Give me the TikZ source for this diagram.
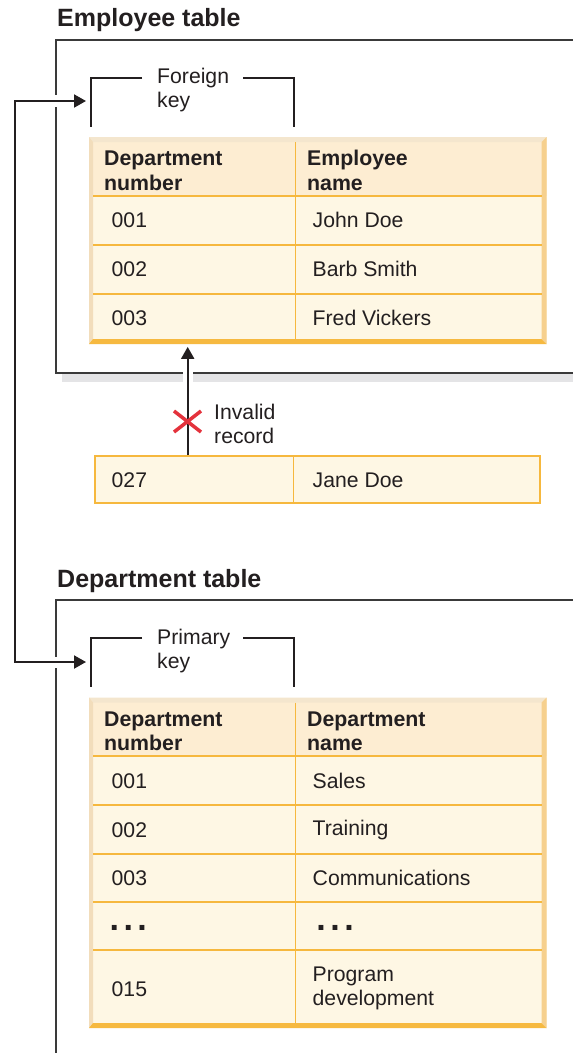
\documentclass[tikz,border=0pt]{standalone}
\usepackage{fontspec}
\setmainfont{Liberation Sans}
\usetikzlibrary{arrows.meta}
\definecolor{ink}{HTML}{231F20}
\definecolor{framec}{HTML}{3A3A3A}
\definecolor{shadowc}{HTML}{E4E4E6}
\definecolor{hdrfill}{HTML}{FDEDD2}
\definecolor{rowfill}{HTML}{FEF7E4}
\definecolor{bevtop}{HTML}{F4E6CE}
\definecolor{bevleft}{HTML}{F2DDBB}
\definecolor{bevright}{HTML}{F6D08E}
\definecolor{bevbot}{HTML}{F6B940}
\definecolor{oline}{HTML}{F6B83E}
\definecolor{xred}{HTML}{E4323C}
% #1 left, #2 top, #3 right, #4 bottom, #5 header bottom
\newcommand\mybevtab[5]{%
  \fill[rowfill] (#1,#2) rectangle (#3,#4);
  \fill[hdrfill] (#1,#2) rectangle (#3,#5);
  \fill[bevtop] (#1,#2) -- (#3,#2) -- (#3-5,#2+5) -- (#1+4,#2+5) -- cycle;
  \fill[bevleft] (#1,#2) -- (#1+4,#2+5) -- (#1+4,#4-5) -- (#1,#4) -- cycle;
  \fill[bevright] (#3,#2) -- (#3,#4) -- (#3-5,#4-5) -- (#3-5,#2+5) -- cycle;
  \fill[bevbot] (#1,#4) -- (#3,#4) -- (#3-5,#4-5) -- (#1+4,#4-5) -- cycle;
}
\begin{document}
\begin{tikzpicture}[x=1pt,y=-1pt,
  titletext/.style={anchor=base west,inner sep=0pt,text=ink,font=\fontsize{25}{30}\selectfont\bfseries},
  txt/.style={anchor=base west,inner sep=0pt,text=ink,font=\fontsize{21.2}{24.5}\selectfont},
  hdr/.style={anchor=base west,inner sep=0pt,text=ink,font=\fontsize{21.3}{24.5}\selectfont\bfseries},
  dots/.style={anchor=base west,inner sep=0pt,text=ink,font=\fontsize{34}{34}\selectfont\bfseries},
  frameline/.style={draw=framec,line width=2pt},
  shadowfill/.style={fill=shadowc},
  bracketline/.style={draw=ink,line width=2pt},
  rowline/.style={draw=oline,line width=2pt},
  colline/.style={draw=oline,line width=1.6pt},
  tablebox/.style={inner sep=0pt,draw=none},
  janebox/.style={inner sep=0pt,draw=oline,line width=2pt,fill=rowfill},
  conn/.style={draw=ink,line width=2pt},
  xmark/.style={draw=xred,line width=3.5pt},
  tip/.style={-{Triangle[length=12pt,width=13pt]}}
]
\useasboundingbox[fill=white] (0,0) rectangle (573,1053);

% ---------------- Employee table ----------------
\node[titletext] (title1) at (57,26.7) {Employee table};
\draw[frameline] (573,39.5) -- (56,39.5) -- (56,95);
\draw[frameline] (56,107) -- (56,372.7) -- (182.5,372.7);
\draw[frameline] (193.2,372.7) -- (573,372.7);
\fill[shadowfill] (62,374) rectangle (182.5,382);
\fill[shadowfill] (193.2,374) rectangle (573,382);

\draw[bracketline] (142,77.5) -- (91,77.5) -- (91,126.5);
\draw[bracketline] (243,77.5) -- (294,77.5) -- (294,126.5);
\node[txt] (fk1) at (157,83.3) {Foreign};
\node[txt] (fk2) at (157,107.6) {key};
\coordinate (fkin) at (86,101);

\mybevtab{89}{137}{546.5}{344}{196}
\node[tablebox,minimum width=457.5pt,minimum height=207pt] (t1) at (317.75,240.5) {};
\draw[rowline] (93,196) -- (541.5,196);
\draw[rowline] (93,245) -- (541.5,245);
\draw[rowline] (93,294) -- (541.5,294);
\draw[colline] (295.5,142) -- (295.5,339);
\node[hdr] (h11) at (104,165.7) {Department};
\node[hdr] (h12) at (104,190) {number};
\node[hdr] (h13) at (307,165.7) {Employee};
\node[hdr] (h14) at (307,190) {name};
\node[txt] (e1a) at (111.5,227.5) {001};
\node[txt] (e1b) at (312.5,227.5) {John Doe};
\node[txt] (e2a) at (111.5,276.5) {002};
\node[txt] (e2b) at (312.5,276.5) {Barb Smith};
\node[txt] (e3a) at (111.5,325.7) {003};
\node[txt] (e3b) at (312.5,325.7) {Fred Vickers};

% ---------------- Invalid record ----------------
\node[janebox,minimum width=445pt,minimum height=47.3pt] (jane) at (317.5,479.7) {};
\coordinate (jdx) at (293.5,0);
\draw[colline] (jane.north -| jdx) -- (jane.south -| jdx);
\node[txt] (j1) at (111.5,487.3) {027};
\node[txt] (j2) at (312.5,487.3) {Jane Doe};
\coordinate (ax) at (187.7,0);
\draw[conn,tip] (jane.north -| ax) -- ([yshift=-2.7pt]t1.south -| ax);
\draw[xmark] (174,411) -- (201,432) (174,432) -- (201,411);
\node[txt] (inv1) at (214,419.5) {Invalid};
\node[txt] (inv2) at (214,443.5) {record};

% ---------------- Department table ----------------
\node[titletext] (title2) at (57,587.3) {Department table};
\draw[frameline] (573,599.5) -- (56,599.5) -- (56,657);
\draw[frameline] (56,668) -- (56,1053);

\draw[bracketline] (142,638.1) -- (91,638.1) -- (91,687.1);
\draw[bracketline] (243,638.1) -- (294,638.1) -- (294,687.1);
\node[txt] (pk1) at (157,644) {Primary};
\node[txt] (pk2) at (157,668.3) {key};
\coordinate (pkin) at (86,662);

\mybevtab{89}{697.5}{546.5}{1028}{756}
\node[tablebox,minimum width=457.5pt,minimum height=330.5pt] (t2) at (317.75,862.75) {};
\draw[rowline] (93,756) -- (541.5,756);
\draw[rowline] (93,805) -- (541.5,805);
\draw[rowline] (93,853.5) -- (541.5,853.5);
\draw[rowline] (93,901.5) -- (541.5,901.5);
\draw[rowline] (93,950) -- (541.5,950);
\draw[colline] (295.5,702.5) -- (295.5,1023);
\node[hdr] (h21) at (104,726.3) {Department};
\node[hdr] (h22) at (104,750.6) {number};
\node[hdr] (h23) at (307,726.3) {Department};
\node[hdr] (h24) at (307,750.6) {name};
\node[txt] (d1a) at (111.5,788.3) {001};
\node[txt] (d1b) at (312.5,788.3) {Sales};
\node[txt] (d2a) at (111.5,837) {002};
\node[txt] (d2b) at (312.5,835) {Training};
\node[txt] (d3a) at (111.5,885.5) {003};
\node[txt] (d3b) at (312.5,885.5) {Communications};
\node[dots] (d4a) at (109.4,930) {.\kern4.5pt.\kern4.5pt.};
\node[dots] (d4b) at (316.2,930) {.\kern4.5pt.\kern4.5pt.};
\node[txt] (d5a) at (111.5,996.7) {015};
\node[txt] (d5b) at (312.5,981) {Program};
\node[txt] (d5c) at (312.5,1005.5) {development};

% ---------------- key link ----------------
\coordinate (lx) at (15,0);
\draw[conn,{Triangle[length=12pt,width=13pt]}-{Triangle[length=12pt,width=13pt]}]
  (fkin) -- (fkin -| lx) -- (pkin -| lx) -- (pkin);
\end{tikzpicture}
\end{document}
